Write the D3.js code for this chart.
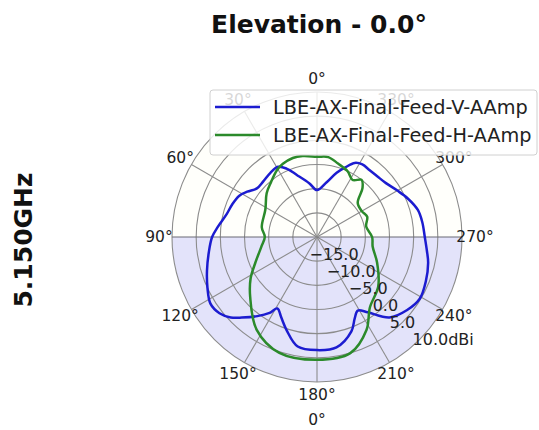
<!DOCTYPE html>
<html>
<head>
<meta charset="utf-8">
<script src="https://cdn.jsdelivr.net/npm/d3@7"></script>
<style>
body { margin: 0; background: #fff; }
svg { display: block; font-family: "DejaVu Sans", sans-serif; }
</style>
</head>
<body>
<svg></svg>
<script>
// gain pattern, V feed (angle in degrees counter-clockwise from top, gain in dBi)
var vAngles = [0, 8, 18, 24, 29, 36, 44, 51, 57, 62, 69, 76, 84, 90, 98, 107, 115, 122, 128, 133, 137, 143, 148, 151, 156, 162, 170, 180,
               190, 200, 205, 209, 214, 222, 231, 239, 248, 257, 263, 270, 278, 285, 293, 300, 308, 315, 322, 328, 333, 338, 343, 350];
var vGain = [-10.3, -8.8, -6.5, -4.5, -3.4, -3.6, -4.0, -4.0, -2.8, -1.8, -1.2, -0.7, 0.6, 1.7, 2.6, 3.8, 5.0, 6.0, 5.6, 4.4, 2.8, 0.5, -1.5, -3.1, -1.8, 0.3, 3.0, 3.4,
             3.2, 0.8, -1.5, -2.6, -1.2, 2.4, 4.0, 4.8, 4.3, 3.6, 2.9, 2.3, 2.0, 1.6, 0.4, -0.8, -1.9, -2.3, -2.4, -2.3, -2.8, -4.5, -6.1, -8.5];

// gain pattern, H feed
var hAngles = [0, 10, 17, 25, 31, 40, 49, 62, 80, 90, 100, 113, 122, 132, 147, 162, 180,
               196, 208, 217, 231, 247, 260, 270, 282, 292, 300, 310, 317, 322, 328, 335, 344, 352];
var hGain = [-3.4, -3.0, -2.9, -3.3, -3.9, -5.2, -6.2, -7.9, -8.4, -9.2, -8.3, -6.1, -3.8, -1.4, 2.9, 5.2, 5.4,
             5.0, 1.8, -1.8, -3.7, -6.5, -8.3, -8.6, -9.6, -8.8, -9.3, -9.0, -6.2, -5.0, -6.1, -5.0, -4.2, -3.3];

var seriesNames = ["LBE-AX-Final-Feed-V-AAmp", "LBE-AX-Final-Feed-H-AAmp"];
var thetaTicks = [0, 30, 60, 90, 120, 150, 180, 210, 240, 270, 300, 330];
var rTicks = [-15, -10, -5, 0, 5, 10];
var rTickLabels = ["\u221215.0", "\u221210.0", "\u22125.0", "0.0", "5.0", "10.0dBi"];

var svgWidth = 539, svgHeight = 430;
var cx = 317, cy = 237, radius = 145;
var colors = ["#1c1cd0", "#2b8a2b"];

var svg = d3.select("svg")
    .attr("width", svgWidth)
    .attr("height", svgHeight);

var r = d3.scaleLinear().domain([-20, 10]).range([0, radius]);
var toRad = function(deg) { return -deg * Math.PI / 180; };

// x/y of a polar point (angle ccw from top)
function px(deg, rr) { return cx - rr * Math.sin(deg * Math.PI / 180); }
function py(deg, rr) { return cy - rr * Math.cos(deg * Math.PI / 180); }

var g = svg.append("g").attr("transform", "translate(" + cx + "," + cy + ")");

// front half near white, back half lavender
var arc = d3.arc().innerRadius(0).outerRadius(radius);
g.append("path")
    .attr("d", arc({ startAngle: -Math.PI / 2, endAngle: Math.PI / 2 }))
    .attr("fill", "#fffffb");
g.append("path")
    .attr("d", arc({ startAngle: Math.PI / 2, endAngle: 3 * Math.PI / 2 }))
    .attr("fill", "#e3e3fa");

// grid circles
g.selectAll(".ring")
    .data(rTicks)
    .enter().append("circle")
    .attr("r", function(d) { return r(d); })
    .attr("fill", "none")
    .attr("stroke", "#8c8c8c")
    .attr("stroke-width", 1.1);

// spokes
g.selectAll(".spoke")
    .data(thetaTicks)
    .enter().append("line")
    .attr("x1", 0).attr("y1", 0)
    .attr("x2", function(d) { return -radius * Math.sin(d * Math.PI / 180); })
    .attr("y2", function(d) { return -radius * Math.cos(d * Math.PI / 180); })
    .attr("stroke", function(d) { return (d === 90 || d === 270) ? "#6a6a74" : "#8c8c8c"; })
    .attr("stroke-width", 1.1);

// pattern curves
var line = d3.lineRadial()
    .angle(function(d) { return toRad(d[0]); })
    .radius(function(d) { return r(d[1]); })
    .curve(d3.curveCatmullRomClosed);

var series = [d3.zip(vAngles, vGain), d3.zip(hAngles, hGain)];
series.forEach(function(s, i) {
    g.append("path")
        .datum(s)
        .attr("fill", "none")
        .attr("stroke", colors[i])
        .attr("stroke-width", 2.5)
        .attr("stroke-linejoin", "round")
        .attr("d", line);
});

// angle labels
svg.selectAll(".tlabel")
    .data(thetaTicks)
    .enter().append("text")
    .attr("x", function(d) { return px(d, radius + 13); })
    .attr("y", function(d) { return py(d, radius + 13); })
    .attr("text-anchor", "middle")
    .attr("dominant-baseline", "central")
    .attr("font-size", "15.5px")
    .attr("fill", "#222")
    .text(function(d) { return d + "\u00b0"; });

// radial labels along 225 deg
svg.selectAll(".rlabel")
    .data(rTicks)
    .enter().append("text")
    .attr("x", function(d, i) { return px(225, r(d)) + (i === rTicks.length - 1 ? -7 : 0); })
    .attr("y", function(d) { return py(225, r(d)); })
    .attr("text-anchor", function(d, i) { return i === rTicks.length - 1 ? "start" : "middle"; })
    .attr("dominant-baseline", "central")
    .attr("font-size", "16px")
    .attr("fill", "#222")
    .text(function(d, i) { return rTickLabels[i]; });

// bottom label
svg.append("text")
    .attr("x", cx).attr("y", 420)
    .attr("text-anchor", "middle")
    .attr("dominant-baseline", "central")
    .attr("font-size", "15.5px")
    .attr("fill", "#222")
    .text("0\u00b0");

// title
svg.append("text")
    .attr("x", 319).attr("y", 33)
    .attr("text-anchor", "middle")
    .attr("font-size", "25px")
    .attr("font-weight", "bold")
    .attr("fill", "#111")
    .text("Elevation - 0.0\u00b0");

// row label
svg.append("text")
    .attr("transform", "translate(32,240) rotate(-90)")
    .attr("text-anchor", "middle")
    .attr("font-size", "25px")
    .attr("font-weight", "bold")
    .attr("fill", "#111")
    .text("5.150GHz");

// legend
var legend = svg.append("g");
legend.append("rect")
    .attr("x", 210).attr("y", 90)
    .attr("width", 327).attr("height", 65)
    .attr("rx", 3)
    .attr("fill", "#fff")
    .attr("fill-opacity", 0.82)
    .attr("stroke", "#d0d0d0");

seriesNames.forEach(function(name, i) {
    var yy = 107 + i * 28;
    legend.append("line")
        .attr("x1", 215).attr("x2", 260)
        .attr("y1", yy).attr("y2", yy)
        .attr("stroke", colors[i])
        .attr("stroke-width", 2.5);
    legend.append("text")
        .attr("x", 273).attr("y", yy)
        .attr("dominant-baseline", "central")
        .attr("font-size", "19.3px")
        .attr("fill", "#222")
        .text(name);
});
</script>
</body>
</html>
